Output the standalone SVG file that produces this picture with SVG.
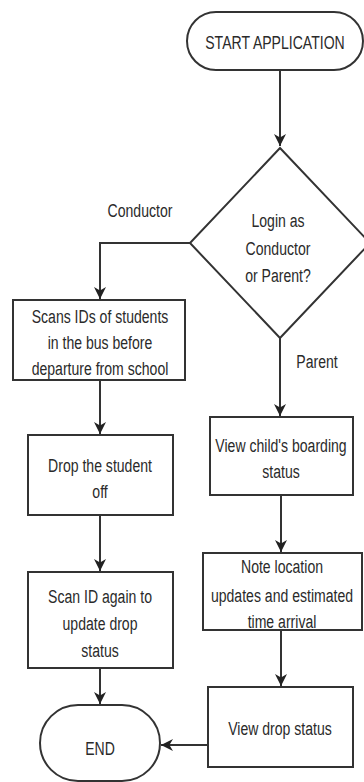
<svg xmlns="http://www.w3.org/2000/svg" width="364" height="782" viewBox="0 0 364 782">
<defs>
<style>
.shape{fill:#fff;stroke:#333;stroke-width:2}
.conn{fill:none;stroke:#333;stroke-width:2}
text{font-family:"Liberation Sans",Arial,sans-serif;font-size:19px;fill:#2a2a2a;text-anchor:middle}
</style>
<marker id="arr" viewBox="0 0 10 10" refX="10" refY="5" markerWidth="6" markerHeight="6" orient="auto" markerUnits="strokeWidth">
<path d="M0,0 L10,5 L0,10 L3,5 Z" fill="#222"/>
</marker>
</defs>
<rect width="364" height="782" fill="#fff"/>
<g id="connectors">
<path class="conn" d="M280,70 V146" marker-end="url(#arr)"/>
<path class="conn" d="M190,243 H100 V299" marker-end="url(#arr)"/>
<path class="conn" d="M280,338 V416" marker-end="url(#arr)"/>
<path class="conn" d="M100,380 V434" marker-end="url(#arr)"/>
<path class="conn" d="M100,515 V571" marker-end="url(#arr)"/>
<path class="conn" d="M100,668 V704" marker-end="url(#arr)"/>
<path class="conn" d="M281,495 V552" marker-end="url(#arr)"/>
<path class="conn" d="M281,630 V686" marker-end="url(#arr)"/>
<path class="conn" d="M208,745 H161" marker-end="url(#arr)"/>
<text transform="translate(140,217) scale(0.74,1)">Conductor</text>
<text transform="translate(317,368) scale(0.74,1)">Parent</text>
</g>
<g id="start">
<rect class="shape" x="187" y="12" width="176" height="58" rx="29"/>
<text transform="translate(275,49) scale(0.74,1)">START APPLICATION</text>
</g>
<g id="decision">
<path class="shape" d="M280,148 L370,243 L280,338 L190,243 Z"/>
<text transform="translate(278,227) scale(0.74,1)">Login as</text>
<text transform="translate(278,255) scale(0.74,1)">Conductor</text>
<text transform="translate(278,282) scale(0.74,1)">or Parent?</text>
</g>
<g id="scan-ids">
<rect class="shape" x="13" y="300" width="172" height="80"/>
<text transform="translate(100,323) scale(0.74,1)">Scans IDs of students</text>
<text transform="translate(100,349) scale(0.74,1)">in the bus before</text>
<text transform="translate(100,375) scale(0.74,1)">departure from school</text>
</g>
<g id="drop">
<rect class="shape" x="28" y="435" width="145" height="80"/>
<text transform="translate(100,472) scale(0.74,1)">Drop the student</text>
<text transform="translate(100,498) scale(0.74,1)">off</text>
</g>
<g id="scan-again">
<rect class="shape" x="28" y="572" width="145" height="96"/>
<text transform="translate(100,603) scale(0.74,1)">Scan ID again to</text>
<text transform="translate(100,630) scale(0.74,1)">update drop</text>
<text transform="translate(100,657) scale(0.74,1)">status</text>
</g>
<g id="end">
<rect class="shape" x="40" y="705" width="120" height="76" rx="38"/>
<text transform="translate(100,755) scale(0.74,1)">END</text>
</g>
<g id="view-boarding">
<rect class="shape" x="210" y="417" width="143" height="78"/>
<text transform="translate(281,452) scale(0.74,1)">View child's boarding</text>
<text transform="translate(281,478) scale(0.74,1)">status</text>
</g>
<g id="note-location">
<rect class="shape" x="203" y="553" width="159" height="77"/>
<text transform="translate(282,573) scale(0.74,1)">Note location</text>
<text transform="translate(282,602) scale(0.74,1)">updates and estimated</text>
<text transform="translate(282,628) scale(0.74,1)">time arrival</text>
</g>
<g id="view-drop">
<rect class="shape" x="208" y="687" width="145" height="80"/>
<text transform="translate(280,735) scale(0.74,1)">View drop status</text>
</g>
</svg>
